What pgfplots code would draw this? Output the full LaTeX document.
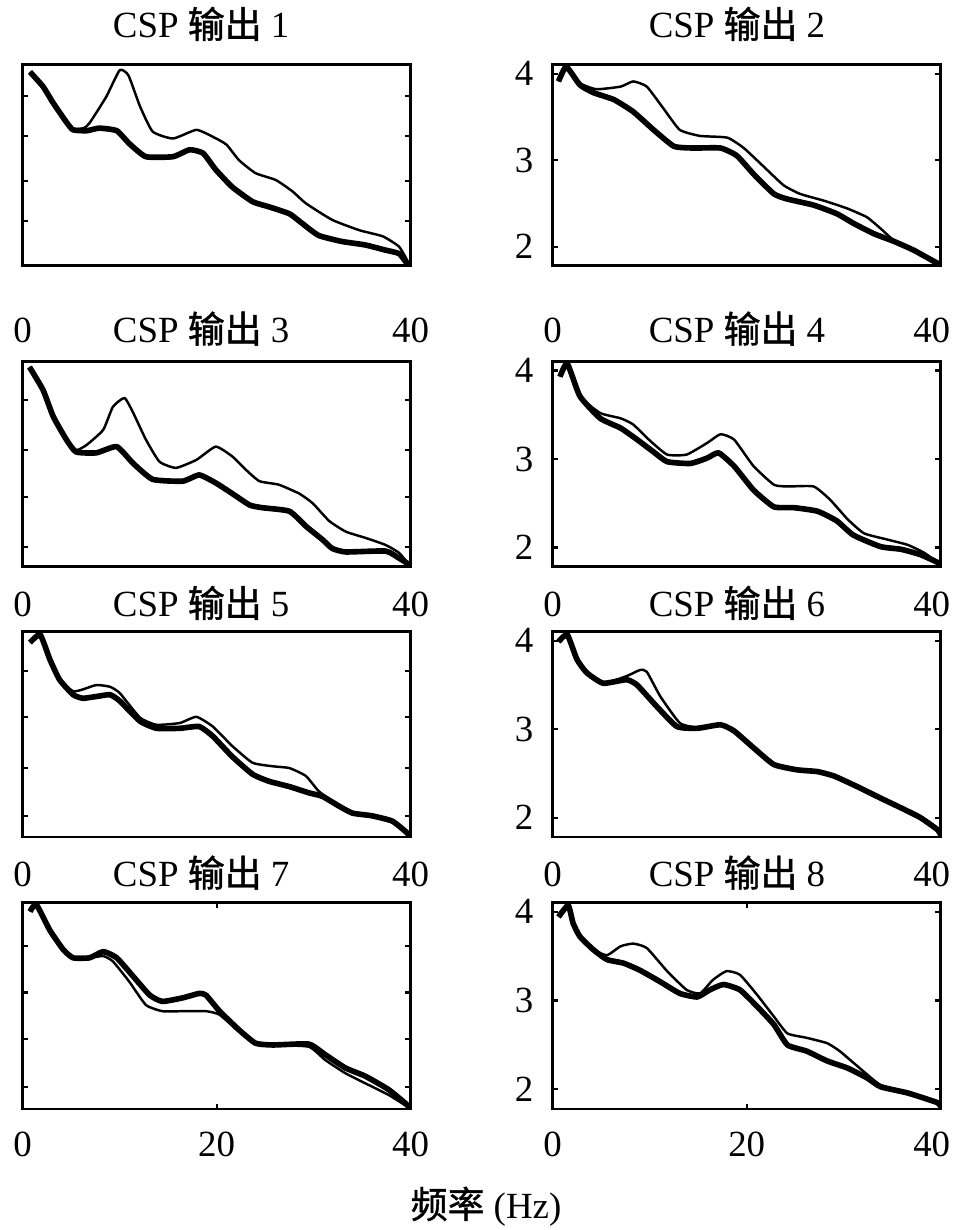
\documentclass[border=0pt]{standalone}
\usepackage{fontspec}
\setmainfont{Liberation Serif}
\newfontfamily\cjk[FakeBold=1.2]{Noto Sans CJK SC}
\usepackage{pgfplots}
\pgfplotsset{compat=1.18}

\pgfplotsset{
  panel/.style={
    scale only axis, width=3.88cm, anchor=north west,
    xmin=0, xmax=40, ymin=1.78, ymax=4.1,
    axis line style={line width=0.85pt},
    tick style={line width=0.6pt, black}, major tick length=0.055cm,
    tick align=inside,
    /pgf/number format/assume math mode=true,
    xticklabel style={anchor=base},
    xtick={0,40},
  },
  leftp/.style={panel, yticklabels={},
    every axis title/.style={at={(0.46,1)}, anchor=base}},
  rightp/.style={panel, ytick={2,3,4},
    every axis title/.style={at={(0.475,1)}, anchor=base},
    yticklabel style={xshift=-0.07cm}},
  thk/.style={black, line width=1.6pt, line join=round, smooth, tension=0.3},
  thn/.style={black, line width=0.7pt, line join=round, smooth, tension=0.3},
}
% last label on the right column sits a little inside the page edge
\newcommand\lastlab{\makebox[0pt][c]{\hspace*{-0.18cm}40}}

\begin{document}
\begin{tikzpicture}[font=\fontsize{10.5}{12.6}\selectfont]
\useasboundingbox (0,0) rectangle (9.54,12.30);

% row 1
\begin{axis}[leftp, at={(0.227cm,11.65cm)}, height=2.007cm,
  title={CSP {\cjk 输出} 1}, title style={yshift=0.27cm},
  xticklabel style={yshift=-0.77cm}, ytick={2.30,2.76,3.28,3.745}]
\addplot[thn] coordinates {(0.75,4.02)(2.1,3.85)(3.15,3.66)(4.5,3.44)(5.2,3.36)(6.3,3.37)(6.9,3.43)(8.6,3.73)(10.0,4.04)(10.9,3.98)(12.1,3.62)(13.4,3.33)(15.5,3.25)(17.9,3.35)(19.6,3.27)(21.0,3.18)(22.3,3.0)(24.0,2.85)(26.1,2.77)(27.8,2.64)(29.2,2.50)(31.9,2.31)(34.7,2.19)(37.1,2.12)(38.8,2.0)(39.8,1.81)(40,1.78)};
\addplot[thk] coordinates {(0.75,4.02)(2.1,3.85)(3.15,3.66)(4.5,3.44)(5.2,3.35)(6.6,3.34)(7.9,3.37)(9.7,3.34)(11.0,3.19)(12.7,3.04)(15.5,3.04)(17.2,3.12)(18.6,3.08)(19.9,2.89)(21.6,2.69)(23.7,2.52)(25.4,2.46)(27.5,2.38)(28.8,2.27)(30.5,2.13)(32.9,2.06)(35.3,2.02)(37.4,1.96)(38.8,1.92)(39.6,1.81)(40,1.78)};
\end{axis}

\begin{axis}[rightp, at={(5.527cm,11.65cm)}, height=2.007cm,
  title={CSP {\cjk 输出} 2}, title style={yshift=0.27cm},
  xticklabels={0,\lastlab}, xticklabel style={yshift=-0.77cm}]
\addplot[thn] coordinates {(0.6,3.91)(1.4,4.08)(2.8,3.89)(4.5,3.82)(7.0,3.85)(8.3,3.91)(9.7,3.85)(11.4,3.60)(13.1,3.35)(15.2,3.28)(18.0,3.26)(19.7,3.14)(21.8,2.92)(23.8,2.71)(25.5,2.61)(28.0,2.53)(30.4,2.44)(32.4,2.34)(33.8,2.21)(35.2,2.07)(37.2,1.96)(39.3,1.83)(40,1.79)};
\addplot[thk] coordinates {(0.6,3.91)(1.4,4.08)(2.8,3.87)(4.2,3.78)(6.3,3.70)(8.3,3.56)(10.4,3.35)(12.5,3.16)(14.5,3.14)(17.3,3.14)(19.0,3.05)(20.7,2.84)(22.8,2.61)(24.2,2.55)(26.9,2.48)(29.3,2.38)(31.0,2.27)(33.1,2.15)(35.2,2.06)(37.2,1.96)(39.3,1.83)(40,1.79)};
\end{axis}

% row 2
\begin{axis}[leftp, at={(0.227cm,8.683cm)}, height=2.053cm,
  title={CSP {\cjk 输出} 3}, title style={yshift=0.19cm},
  xticklabel style={yshift=-0.50cm}, ytick={2.01,2.57,3.10,3.667}]
\addplot[thn] coordinates {(0.7,4.04)(2.1,3.78)(3.15,3.48)(4.5,3.22)(5.5,3.10)(6.6,3.16)(8.3,3.33)(9.3,3.59)(10.5,3.69)(11.4,3.52)(12.7,3.22)(14.1,2.97)(15.8,2.90)(17.9,2.99)(19.9,3.14)(21.6,3.03)(23.0,2.88)(24.4,2.75)(26.4,2.71)(28.5,2.61)(29.9,2.50)(31.6,2.30)(33.3,2.18)(35.3,2.11)(37.4,2.03)(38.8,1.94)(39.8,1.81)(40,1.78)};
\addplot[thk] coordinates {(0.7,4.04)(2.1,3.78)(3.15,3.48)(4.5,3.22)(5.5,3.08)(7.6,3.07)(9.7,3.14)(11.4,2.95)(13.4,2.77)(16.5,2.75)(18.2,2.82)(19.9,2.73)(21.6,2.61)(23.4,2.48)(24.7,2.45)(27.5,2.41)(29.2,2.24)(30.9,2.09)(31.9,1.99)(33.3,1.95)(37.4,1.96)(38.8,1.88)(39.8,1.81)(40,1.78)};
\end{axis}

\begin{axis}[rightp, at={(5.527cm,8.683cm)}, height=2.053cm,
  title={CSP {\cjk 输出} 4}, title style={yshift=0.19cm},
  xticklabels={0,\lastlab}, xticklabel style={yshift=-0.50cm}]
\addplot[thn] coordinates {(0.75,3.93)(1.5,4.08)(2.8,3.71)(4.9,3.52)(7.0,3.46)(8.3,3.39)(10.1,3.20)(11.8,3.05)(13.8,3.05)(15.9,3.18)(17.3,3.28)(18.7,3.22)(20.7,2.92)(22.8,2.71)(24.2,2.69)(26.9,2.69)(28.6,2.54)(30.4,2.32)(32.1,2.16)(34.5,2.09)(36.6,2.03)(38.3,1.94)(39.7,1.83)(40,1.79)};
\addplot[thk] coordinates {(0.75,3.93)(1.5,4.08)(2.8,3.71)(4.9,3.46)(7.0,3.35)(8.7,3.22)(10.4,3.08)(11.8,2.97)(14.2,2.95)(15.9,3.01)(17.1,3.07)(18.7,2.92)(20.7,2.65)(22.8,2.46)(24.9,2.45)(27.3,2.41)(29.3,2.30)(31.0,2.14)(33.8,2.01)(35.9,1.98)(37.9,1.92)(39.7,1.83)(40,1.79)};
\end{axis}

% row 3
\begin{axis}[leftp, at={(0.227cm,5.98cm)}, height=2.05cm,
  title={CSP {\cjk 输出} 5}, title style={yshift=0.15cm},
  xticklabel style={yshift=-0.50cm}, ytick={2.02,2.56,3.135,3.663}]
\addplot[thn] coordinates {(0.75,3.98)(1.8,4.07)(2.8,3.79)(3.8,3.56)(5.2,3.43)(6.2,3.45)(7.6,3.50)(9.0,3.48)(10.0,3.41)(12.1,3.13)(13.8,3.05)(16.2,3.07)(17.9,3.14)(19.6,3.03)(21.6,2.81)(23.7,2.62)(25.8,2.58)(27.5,2.56)(29.2,2.47)(30.5,2.30)(31.9,2.19)(34.0,2.06)(36.0,2.02)(38.1,1.96)(39.6,1.83)(40,1.78)};
\addplot[thk] coordinates {(0.75,3.98)(1.8,4.07)(2.8,3.79)(3.8,3.56)(5.2,3.39)(6.2,3.35)(7.6,3.37)(9.0,3.39)(10.0,3.32)(12.1,3.09)(13.8,3.01)(16.2,3.01)(18.2,3.03)(19.6,2.92)(21.6,2.69)(23.7,2.49)(25.4,2.41)(27.5,2.35)(29.5,2.28)(30.9,2.24)(32.6,2.13)(34.0,2.05)(36.0,2.02)(38.1,1.96)(39.6,1.83)(40,1.78)};
\end{axis}

\begin{axis}[rightp, at={(5.527cm,5.98cm)}, height=2.05cm,
  title={CSP {\cjk 输出} 6}, title style={yshift=0.15cm},
  xticklabels={0,\lastlab}, xticklabel style={yshift=-0.50cm}]
\addplot[thn] coordinates {(0.6,3.99)(1.5,4.07)(2.5,3.79)(3.5,3.64)(5.2,3.52)(7.6,3.60)(9.0,3.67)(9.7,3.65)(11.1,3.37)(13.1,3.07)(14.9,3.02)(17.3,3.06)(18.7,2.98)(20.7,2.79)(22.8,2.61)(25.2,2.55)(27.3,2.53)(29.0,2.47)(31.4,2.35)(33.8,2.22)(35.9,2.11)(37.9,2.0)(39.7,1.86)(40,1.80)};
\addplot[thk] coordinates {(0.6,3.99)(1.5,4.07)(2.5,3.79)(3.5,3.64)(5.2,3.52)(7.6,3.56)(8.7,3.50)(10.7,3.26)(12.8,3.03)(14.9,3.01)(17.3,3.05)(18.7,2.98)(20.7,2.79)(22.8,2.60)(25.2,2.54)(27.3,2.52)(29.0,2.47)(31.4,2.35)(33.8,2.22)(35.9,2.11)(37.9,2.0)(39.7,1.86)(40,1.80)};
\end{axis}

% row 4
\begin{axis}[leftp, at={(0.227cm,3.273cm)}, height=2.063cm,
  title={CSP {\cjk 输出} 7}, title style={yshift=0.16cm},
  xtick={0,20,40}, xticklabel style={yshift=-0.48cm}, ytick={2.03,2.57,3.09,3.61}]
\addplot[thn] coordinates {(0.75,4.0)(1.4,4.08)(2.8,3.79)(4.2,3.57)(5.2,3.48)(6.9,3.48)(8.3,3.50)(9.3,3.44)(11.0,3.21)(12.7,2.95)(14.4,2.88)(16.5,2.88)(18.9,2.88)(20.3,2.84)(22.3,2.65)(24.0,2.52)(25.8,2.50)(29.5,2.48)(31.2,2.33)(33.3,2.18)(35.3,2.07)(37.7,1.94)(39.6,1.81)(40,1.78)};
\addplot[thk] coordinates {(0.75,4.0)(1.4,4.08)(2.8,3.79)(4.2,3.57)(5.2,3.48)(6.9,3.48)(8.3,3.55)(9.7,3.48)(11.4,3.27)(13.1,3.06)(14.4,2.99)(16.5,3.03)(18.2,3.08)(18.9,3.06)(20.3,2.88)(22.3,2.67)(24.0,2.52)(25.8,2.50)(29.5,2.51)(31.2,2.39)(33.3,2.24)(35.3,2.15)(37.7,2.0)(39.6,1.83)(40,1.78)};
\end{axis}

\begin{axis}[rightp, at={(5.527cm,3.273cm)}, height=2.063cm,
  title={CSP {\cjk 输出} 8}, title style={yshift=0.16cm},
  xtick={0,20,40}, xticklabels={0,20,\lastlab}, xticklabel style={yshift=-0.48cm}]
\addplot[thn] coordinates {(0.6,3.94)(1.6,4.07)(2.1,3.87)(2.8,3.72)(4.2,3.57)(5.6,3.51)(7.0,3.61)(8.3,3.64)(9.7,3.59)(11.8,3.33)(13.8,3.12)(15.2,3.08)(16.5,3.23)(17.9,3.33)(19.3,3.29)(21.1,3.06)(22.8,2.82)(24.2,2.63)(26.2,2.58)(28.3,2.52)(29.6,2.43)(31.0,2.30)(32.4,2.17)(33.8,2.05)(36.6,1.96)(39.7,1.85)(40,1.80)};
\addplot[thk] coordinates {(0.6,3.94)(1.6,4.07)(2.1,3.87)(2.8,3.72)(4.2,3.57)(5.6,3.46)(7.3,3.42)(9.0,3.34)(11.1,3.21)(13.1,3.08)(14.9,3.04)(16.2,3.12)(17.6,3.18)(19.3,3.12)(21.1,2.93)(22.8,2.73)(24.2,2.50)(26.2,2.43)(28.3,2.32)(30.4,2.24)(32.4,2.13)(33.8,2.03)(36.6,1.96)(39.7,1.85)(40,1.80)};
\end{axis}

\node[anchor=base] at (4.86,0.12) {{\cjk 频率} (Hz)};
\end{tikzpicture}
\end{document}
